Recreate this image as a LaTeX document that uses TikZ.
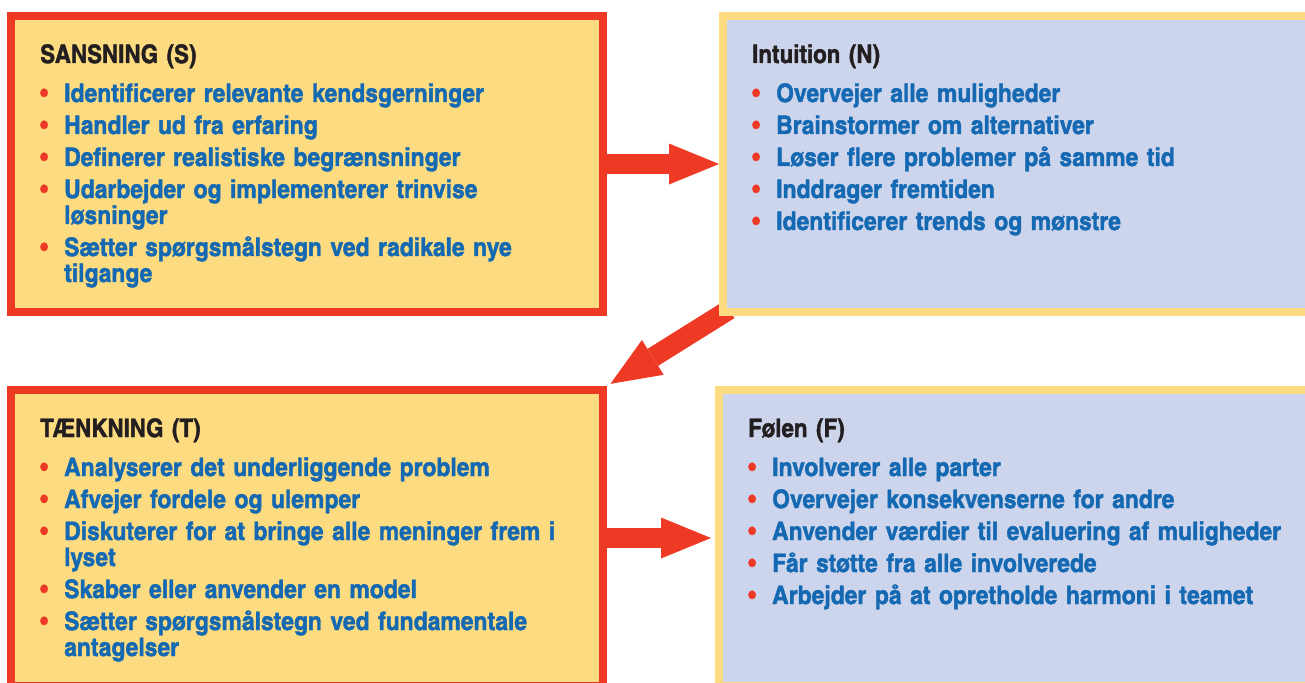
\documentclass[tikz,border=0pt]{standalone}
\usepackage{fontspec}
\newfontfamily\cnfont{texgyreheroscn-bold}[Extension=.otf,FakeStretch=1.07,FakeBold=1.5]
\newfontfamily\cnwide{texgyreheroscn-bold}[Extension=.otf,FakeStretch=1.095,FakeBold=1.5]
\usetikzlibrary{arrows.meta,
        backgrounds}
\usepackage{xcolor}

\definecolor{boxyellow}{RGB}{253,219,128}
\definecolor{boxblue}{RGB}{205,213,236}
\definecolor{arrowred}{RGB}{238,58,36}
\definecolor{itemblue}{RGB}{20,105,178}
\definecolor{ink}{RGB}{35,31,32}

\newcommand{\boxhead}[1]{\lineskiplimit=-10pt\relax\textcolor{ink}{#1}\par\vspace{7pt}}
\newcommand{\itm}[1]{\par\vspace{6pt}\hangindent=24pt\hangafter=1\noindent
  \makebox[24pt][l]{\textcolor{arrowred}{\textbullet}}\textcolor{itemblue}{\cnwide #1}\par}

\begin{document}
\begin{tikzpicture}[x=1pt,y=-1pt,
        panel/.style={draw,line width=8pt,inner sep=0pt,minimum height=296pt},
        panel text/.style={anchor=base west,inner sep=0pt,text width=560pt,align=left,
            font=\cnfont\fontsize{25.5}{26}\selectfont},
        flow/.style={draw=arrowred,line width=20pt,
            -{Triangle[length=50pt,width=41pt,line width=0pt]}}]
            \useasboundingbox (0,0) rectangle (1305,682);

            \node [panel,draw=arrowred,fill=boxyellow,minimum width=592pt] (S) at (307,164) {};
            \node [panel,draw=boxyellow,fill=boxblue,minimum width=593pt] (N) at (1019.5,164) {};
            \node [panel,draw=arrowred,fill=boxyellow,minimum width=592pt] (T) at (307,538) {};
            \node [panel,draw=boxyellow,fill=boxblue,minimum width=597pt] (F) at (1017.5,538) {};

            \node [panel text] (Stext) at (40,63) {\boxhead{SANSNING (S)}
                \itm{Identificerer relevante kendsgerninger}
                \itm{Handler ud fra erfaring}
                \itm{Definerer realistiske begrænsninger}
                \itm{Udarbejder og implementerer trinvise\newline løsninger}
                \itm{Sætter spørgsmålstegn ved radikale nye\newline tilgange}};
            \node [panel text] (Ntext) at (752,63) {\boxhead{Intuition (N)}
                \itm{Overvejer alle muligheder}
                \itm{Brainstormer om alternativer}
                \itm{Løser flere problemer på samme tid}
                \itm{Inddrager fremtiden}
                \itm{Identificerer trends og mønstre}};
            \node [panel text] (Ttext) at (40,437) {\boxhead{TÆNKNING (T)}
                \itm{Analyserer det underliggende problem}
                \itm{Afvejer fordele og ulemper}
                \itm{Diskuterer for at bringe alle meninger frem i\newline lyset}
                \itm{Skaber eller anvender en model}
                \itm{Sætter spørgsmålstegn ved fundamentale\newline antagelser}};
            \node [panel text] (Ftext) at (748,437) {\boxhead{Følen (F)}
                \itm{Involverer alle parter}
                \itm{Overvejer konsekvenserne for andre}
                \itm{Anvender værdier til evaluering af muligheder}
                \itm{Får støtte fra alle involverede}
                \itm{Arbejder på at opretholde harmoni i teamet}};

            \begin{scope}[on background layer]
            \draw [flow] (S.east) -- (N.west);
            \draw [flow,shorten <=-12pt,shorten >=4pt] (N.south west) -- (T.north east);
            \draw [flow,shorten >=4pt] (T.east) -- (F.west);
            \end{scope}
        \end{tikzpicture}
\end{document}
